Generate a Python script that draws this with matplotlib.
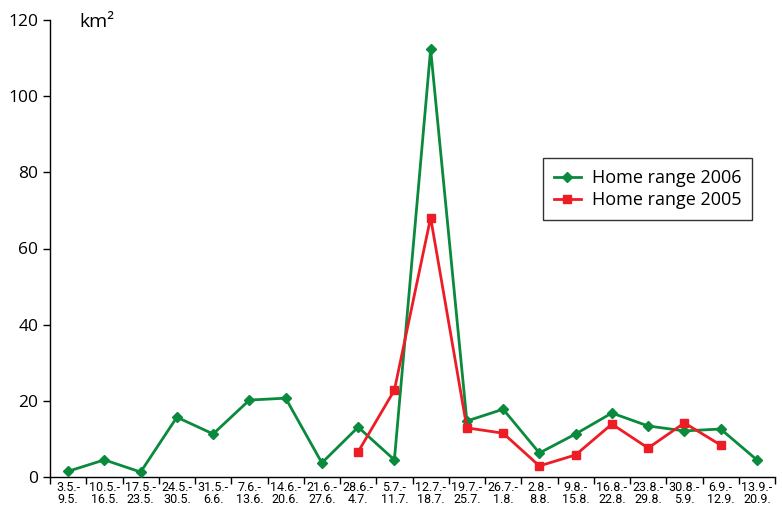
import numpy as np
import matplotlib.pyplot as plt
from matplotlib.ticker import FixedLocator

# weekly periods (start - end)
periods = ["3.5.-\n9.5.", "10.5.-\n16.5.", "17.5.-\n23.5.", "24.5.-\n30.5.",
           "31.5.-\n6.6.", "7.6.-\n13.6.", "14.6.-\n20.6.", "21.6.-\n27.6.",
           "28.6.-\n4.7.", "5.7.-\n11.7.", "12.7.-\n18.7.", "19.7.-\n25.7.",
           "26.7.-\n1.8.", "2.8.-\n8.8.", "9.8.-\n15.8.", "16.8.-\n22.8.",
           "23.8.-\n29.8.", "30.8.-\n5.9.", "6.9.-\n12.9.", "13.9.-\n20.9."]

# home range in km2
range_2006 = [1.5, 4.5, 1.3, 15.7, 11.3, 20.2, 20.7, 3.7, 13.1, 4.5,
              112.3, 14.7, 17.8, 6.3, 11.3, 16.8, 13.4, 12.1, 12.6, 4.5]
range_2005 = [np.nan, np.nan, np.nan, np.nan, np.nan, np.nan, np.nan, np.nan,
              6.6, 22.8, 68.1, 12.9, 11.5, 2.9, 5.8, 13.9, 7.6, 14.2, 8.4, np.nan]

plt.rcParams['font.family'] = ['Open Sans', 'DejaVu Sans']

fig = plt.figure(figsize=(7.82, 5.08), dpi=100)
ax = fig.add_axes([50 / 782, 31 / 508, 725 / 782, 457 / 508])

x = np.arange(len(periods))
green = '#0a8a3c'
red = '#ee1c25'

ax.plot(x, range_2006, color=green, lw=2.0, marker='D', ms=5.5,
        label='Home range 2006', zorder=3)
ax.plot(x, range_2005, color=red, lw=2.0, marker='s', ms=6,
        label='Home range 2005', zorder=4)

ax.set_xlim(-0.5, len(periods) - 0.5)
ax.set_ylim(0, 120)
ax.set_yticks([0, 20, 40, 60, 80, 100, 120])
ax.tick_params(axis='y', labelsize=12.5, length=5, width=1, direction='out')

# tick marks between categories, labels at the centers
ax.xaxis.set_major_locator(FixedLocator(np.arange(-0.5, len(periods), 1.0)))
ax.set_xticklabels([])
ax.xaxis.set_minor_locator(FixedLocator(x))
ax.set_xticklabels(periods, minor=True, fontsize=9, linespacing=0.9,
                   family=['Roboto', 'DejaVu Sans'])
ax.tick_params(axis='x', which='major', length=5, width=1, direction='out')
ax.tick_params(axis='x', which='minor', length=0, pad=3)

ax.spines['top'].set_visible(False)
ax.spines['right'].set_visible(False)
ax.spines['left'].set_linewidth(1)
ax.spines['bottom'].set_linewidth(1)

ax.text(0.3, 119.5, 'km²', fontsize=14, va='center', ha='left')

leg = ax.legend(loc='upper left', bbox_to_anchor=(493 / 725, 1 - 138 / 457),
                borderaxespad=0, fontsize=13, frameon=True, fancybox=False,
                edgecolor='black', handlelength=1.5, borderpad=0.6,
                labelspacing=0.25, handletextpad=0.6)
leg.get_frame().set_linewidth(1)

fig.savefig('out.png', dpi=100)
